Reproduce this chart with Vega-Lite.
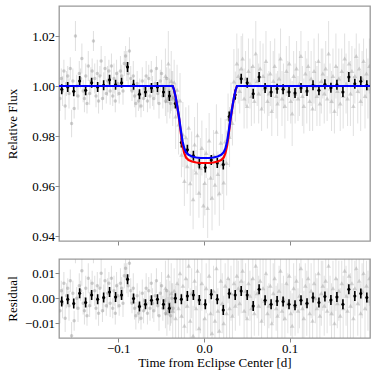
{
"$schema":"https://vega.github.io/schema/vega-lite/v6.json",
"padding":{"left":5,"top":5,"right":5,"bottom":5},
"bounds":"flush",
"spacing":18,
"background":"white",
"config":{
 "font":"Liberation Serif",
 "view":{"stroke":"#999999","strokeWidth":1.3},
 "axis":{"domain":false,"grid":false,"ticks":true,"tickColor":"#888888","tickSize":4,"labelFont":"Liberation Serif","labelFontSize":13,"labelColor":"#000000","titleFont":"Liberation Serif","titleFontSize":13,"titleFontWeight":"normal","titleColor":"#000000","labelPadding":0.5}
},
"datasets":{
"circ":[
{"t":-0.168,"f":0.995,"r":-0.005,"e":0.005},{"t":-0.1665,"f":1.003,"r":0.003,"e":0.004},{"t":-0.165,"f":0.998,"r":-0.002,"e":0.006},{"t":-0.1635,"f":1.006,"r":0.006,"e":0.0045},{"t":-0.162,"f":0.992,"r":-0.008,"e":0.0055},{"t":-0.1605,"f":1.001,"r":0.001,"e":0.005},{"t":-0.159,"f":1.004,"r":0.004,"e":0.004},{"t":-0.1575,"f":0.997,"r":-0.003,"e":0.006},{"t":-0.156,"f":1.007,"r":0.007,"e":0.0045},{"t":-0.1545,"f":0.985,"r":-0.015,"e":0.0055},
{"t":-0.153,"f":1.002,"r":0.002,"e":0.005},{"t":-0.1515,"f":0.991,"r":-0.009,"e":0.004},{"t":-0.15,"f":1.02,"r":0.02,"e":0.006},{"t":-0.1485,"f":1.0,"r":0.0,"e":0.0045},{"t":-0.147,"f":0.996,"r":-0.004,"e":0.0055},{"t":-0.1455,"f":1.005,"r":0.005,"e":0.005},{"t":-0.144,"f":1.003,"r":0.003,"e":0.004},{"t":-0.1425,"f":1.011,"r":0.011,"e":0.006},{"t":-0.141,"f":0.998,"r":-0.002,"e":0.0045},{"t":-0.1395,"f":0.995,"r":-0.005,"e":0.0055},
{"t":-0.138,"f":1.004,"r":0.004,"e":0.005},{"t":-0.1365,"f":0.993,"r":-0.007,"e":0.004},{"t":-0.135,"f":1.008,"r":0.008,"e":0.006},{"t":-0.1335,"f":0.997,"r":-0.003,"e":0.0045},{"t":-0.132,"f":1.002,"r":0.002,"e":0.0055},{"t":-0.1305,"f":1.006,"r":0.006,"e":0.005},{"t":-0.129,"f":1.018,"r":0.018,"e":0.004},{"t":-0.1275,"f":1.003,"r":0.003,"e":0.006},{"t":-0.126,"f":0.996,"r":-0.004,"e":0.0045},{"t":-0.1245,"f":1.005,"r":0.005,"e":0.0055},
{"t":-0.123,"f":0.994,"r":-0.006,"e":0.005},{"t":-0.1215,"f":1.004,"r":0.004,"e":0.004},{"t":-0.12,"f":1.01,"r":0.01,"e":0.006},{"t":-0.1185,"f":0.995,"r":-0.005,"e":0.0045},{"t":-0.117,"f":1.0,"r":0.0,"e":0.0055},{"t":-0.1155,"f":1.007,"r":0.007,"e":0.005},{"t":-0.114,"f":0.997,"r":-0.003,"e":0.004},{"t":-0.1125,"f":1.002,"r":0.002,"e":0.006},{"t":-0.111,"f":1.006,"r":0.006,"e":0.0045},{"t":-0.1095,"f":0.998,"r":-0.002,"e":0.0055},
{"t":-0.108,"f":1.008,"r":0.008,"e":0.005},{"t":-0.1065,"f":0.996,"r":-0.004,"e":0.004},{"t":-0.105,"f":1.003,"r":0.003,"e":0.006},{"t":-0.1035,"f":0.994,"r":-0.006,"e":0.0045},{"t":-0.102,"f":1.005,"r":0.005,"e":0.0055},{"t":-0.1005,"f":1.001,"r":0.001,"e":0.005},{"t":-0.099,"f":0.997,"r":-0.003,"e":0.004},{"t":-0.0975,"f":1.006,"r":0.006,"e":0.006},{"t":-0.096,"f":1.004,"r":0.004,"e":0.0045},{"t":-0.0945,"f":0.998,"r":-0.002,"e":0.0055},
{"t":-0.093,"f":1.009,"r":0.009,"e":0.005},{"t":-0.0915,"f":1.012,"r":0.012,"e":0.004},{"t":-0.09,"f":1.008,"r":0.008,"e":0.006},{"t":-0.0885,"f":1.005,"r":0.005,"e":0.0045},{"t":-0.087,"f":1.014,"r":0.014,"e":0.0055},{"t":-0.0855,"f":1.003,"r":0.003,"e":0.005},{"t":-0.084,"f":0.998,"r":-0.002,"e":0.004},{"t":-0.0825,"f":1.004,"r":0.004,"e":0.006},{"t":-0.081,"f":0.996,"r":-0.004,"e":0.0045},{"t":-0.0795,"f":0.993,"r":-0.007,"e":0.0055},
{"t":-0.078,"f":1.001,"r":0.001,"e":0.005},{"t":-0.0765,"f":0.994,"r":-0.006,"e":0.004},{"t":-0.075,"f":0.997,"r":-0.003,"e":0.006},{"t":-0.0735,"f":0.992,"r":-0.008,"e":0.0045},{"t":-0.072,"f":1.002,"r":0.002,"e":0.0055},{"t":-0.0705,"f":0.995,"r":-0.005,"e":0.005},{"t":-0.069,"f":0.999,"r":-0.001,"e":0.004},{"t":-0.0675,"f":1.004,"r":0.004,"e":0.006},{"t":-0.066,"f":0.994,"r":-0.006,"e":0.0045},{"t":-0.0645,"f":1.003,"r":0.003,"e":0.0055},
{"t":-0.063,"f":0.996,"r":-0.004,"e":0.005},{"t":-0.0615,"f":1.006,"r":0.006,"e":0.004},{"t":-0.06,"f":0.998,"r":-0.002,"e":0.006},{"t":-0.0585,"f":0.995,"r":-0.005,"e":0.0045},{"t":-0.057,"f":1.001,"r":0.001,"e":0.0055},{"t":-0.0555,"f":1.007,"r":0.007,"e":0.005},{"t":-0.054,"f":0.997,"r":-0.003,"e":0.004},{"t":-0.0525,"f":0.993,"r":-0.007,"e":0.006},{"t":-0.051,"f":1.002,"r":0.002,"e":0.0045},{"t":-0.0495,"f":1.005,"r":0.005,"e":0.0055},
{"t":-0.048,"f":0.996,"r":-0.004,"e":0.005},{"t":-0.0465,"f":0.999,"r":-0.001,"e":0.004},{"t":-0.045,"f":0.994,"r":-0.006,"e":0.006},{"t":-0.0435,"f":1.003,"r":0.003,"e":0.0045},{"t":-0.042,"f":0.995,"r":-0.005,"e":0.0055},{"t":-0.0405,"f":0.998,"r":-0.002,"e":0.005},{"t":-0.039,"f":0.993,"r":-0.007,"e":0.004},{"t":-0.0375,"f":1.0,"r":0.0,"e":0.006},{"t":-0.036,"f":0.9955,"r":-0.004,"e":0.0045}
],
"tri":[
{"t":-0.045,"f":1.004,"r":0.004,"e":0.011},{"t":-0.0433,"f":0.994,"r":-0.006,"e":0.009},{"t":-0.0416,"f":1.009,"r":0.009,"e":0.013},{"t":-0.0399,"f":0.997,"r":-0.003,"e":0.01},{"t":-0.0382,"f":1.002,"r":0.002,"e":0.012},{"t":-0.0365,"f":0.995,"r":-0.005,"e":0.011},{"t":-0.0348,"f":1.0015,"r":0.003,"e":0.009},{"t":-0.0331,"f":0.9878,"r":-0.008,"e":0.013},{"t":-0.0314,"f":0.9985,"r":0.006,"e":0.01},{"t":-0.0297,"f":0.9846,"r":-0.004,"e":0.012},
{"t":-0.028,"f":0.9942,"r":0.01,"e":0.011},{"t":-0.0263,"f":0.9725,"r":-0.007,"e":0.009},{"t":-0.0246,"f":0.9806,"r":0.005,"e":0.013},{"t":-0.0229,"f":0.962,"r":-0.011,"e":0.01},{"t":-0.0212,"f":0.9795,"r":0.008,"e":0.012},{"t":-0.0195,"f":0.9679,"r":-0.003,"e":0.011},{"t":-0.0178,"f":0.9833,"r":0.013,"e":0.009},{"t":-0.0161,"f":0.9611,"r":-0.009,"e":0.013},{"t":-0.0144,"f":0.9718,"r":0.002,"e":0.01},{"t":-0.0127,"f":0.9547,"r":-0.015,"e":0.012},
{"t":-0.011,"f":0.9766,"r":0.007,"e":0.011},{"t":-0.0093,"f":0.9654,"r":-0.004,"e":0.009},{"t":-0.0076,"f":0.9803,"r":0.011,"e":0.013},{"t":-0.0059,"f":0.9573,"r":-0.012,"e":0.01},{"t":-0.0042,"f":0.9672,"r":-0.002,"e":0.012},{"t":-0.0025,"f":0.9752,"r":0.006,"e":0.011},{"t":-0.0008,"f":0.9522,"r":-0.017,"e":0.009},{"t":0.0009,"f":0.9612,"r":-0.008,"e":0.013},{"t":0.0026,"f":0.9732,"r":0.004,"e":0.01},{"t":0.0043,"f":0.9512,"r":-0.018,"e":0.012},
{"t":0.006,"f":0.9782,"r":0.009,"e":0.011},{"t":0.0077,"f":0.9633,"r":-0.006,"e":0.009},{"t":0.0094,"f":0.9553,"r":-0.014,"e":0.013},{"t":0.0111,"f":0.9724,"r":0.003,"e":0.01},{"t":0.0128,"f":0.9605,"r":-0.009,"e":0.012},{"t":0.0145,"f":0.9817,"r":0.012,"e":0.011},{"t":0.0162,"f":0.9648,"r":-0.005,"e":0.009},{"t":0.0179,"f":0.9571,"r":-0.013,"e":0.013},{"t":0.0196,"f":0.9773,"r":0.007,"e":0.01},{"t":0.0213,"f":0.9688,"r":-0.002,"e":0.012},
{"t":0.023,"f":0.9614,"r":-0.01,"e":0.011},{"t":0.0247,"f":0.9778,"r":0.005,"e":0.009},{"t":0.0264,"f":0.9692,"r":-0.006,"e":0.013},{"t":0.0281,"f":0.987,"r":0.008,"e":0.01},{"t":0.0298,"f":0.9796,"r":-0.004,"e":0.012},{"t":0.0315,"f":0.9904,"r":0.002,"e":0.011},{"t":0.0332,"f":0.9852,"r":-0.007,"e":0.009},{"t":0.0349,"f":1.0018,"r":0.006,"e":0.013},{"t":0.0366,"f":0.9958,"r":-0.003,"e":0.01},{"t":0.0383,"f":1.009,"r":0.009,"e":0.012},
{"t":0.04,"f":1.004,"r":0.004,"e":0.011},{"t":0.0417,"f":0.998,"r":-0.002,"e":0.009},{"t":0.0434,"f":1.007,"r":0.007,"e":0.013},{"t":0.0451,"f":1.011,"r":0.011,"e":0.01},{"t":0.0468,"f":0.995,"r":-0.005,"e":0.012},{"t":0.0485,"f":1.003,"r":0.003,"e":0.011},{"t":0.0502,"f":0.992,"r":-0.008,"e":0.009},{"t":0.0519,"f":1.006,"r":0.006,"e":0.013},{"t":0.0536,"f":1.001,"r":0.001,"e":0.01},{"t":0.0553,"f":0.996,"r":-0.004,"e":0.012},
{"t":0.057,"f":1.008,"r":0.008,"e":0.011},{"t":0.0587,"f":0.994,"r":-0.006,"e":0.009},{"t":0.0604,"f":1.013,"r":0.013,"e":0.013},{"t":0.0621,"f":1.002,"r":0.002,"e":0.01},{"t":0.0638,"f":0.997,"r":-0.003,"e":0.012},{"t":0.0655,"f":1.007,"r":0.007,"e":0.011},{"t":0.0672,"f":0.991,"r":-0.009,"e":0.009},{"t":0.0689,"f":1.004,"r":0.004,"e":0.013},{"t":0.0706,"f":0.999,"r":-0.001,"e":0.01},{"t":0.0723,"f":1.01,"r":0.01,"e":0.012},
{"t":0.074,"f":0.994,"r":-0.006,"e":0.011},{"t":0.0757,"f":0.997,"r":-0.003,"e":0.009},{"t":0.0774,"f":1.005,"r":0.005,"e":0.013},{"t":0.0791,"f":0.99,"r":-0.01,"e":0.01},{"t":0.0808,"f":1.002,"r":0.002,"e":0.012},{"t":0.0825,"f":1.008,"r":0.008,"e":0.011},{"t":0.0842,"f":0.996,"r":-0.004,"e":0.009},{"t":0.0859,"f":0.993,"r":-0.007,"e":0.013},{"t":0.0876,"f":1.003,"r":0.003,"e":0.01},{"t":0.0893,"f":1.011,"r":0.011,"e":0.012},
{"t":0.091,"f":0.995,"r":-0.005,"e":0.011},{"t":0.0927,"f":1.0,"r":0.0,"e":0.009},{"t":0.0944,"f":0.992,"r":-0.008,"e":0.013},{"t":0.0961,"f":1.006,"r":0.006,"e":0.01},{"t":0.0978,"f":0.998,"r":-0.002,"e":0.012},{"t":0.0995,"f":1.009,"r":0.009,"e":0.011},{"t":0.1012,"f":0.994,"r":-0.006,"e":0.009},{"t":0.1029,"f":0.989,"r":-0.011,"e":0.013},{"t":0.1046,"f":1.004,"r":0.004,"e":0.01},{"t":0.1063,"f":0.997,"r":-0.003,"e":0.012},
{"t":0.108,"f":1.007,"r":0.007,"e":0.011},{"t":0.1097,"f":0.995,"r":-0.005,"e":0.009},{"t":0.1114,"f":1.001,"r":0.001,"e":0.013},{"t":0.1131,"f":1.012,"r":0.012,"e":0.01},{"t":0.1148,"f":0.996,"r":-0.004,"e":0.012},{"t":0.1165,"f":0.992,"r":-0.008,"e":0.011},{"t":0.1182,"f":1.005,"r":0.005,"e":0.009},{"t":0.1199,"f":0.998,"r":-0.002,"e":0.013},{"t":0.1216,"f":1.008,"r":0.008,"e":0.01},{"t":0.1233,"f":0.994,"r":-0.006,"e":0.012},
{"t":0.125,"f":1.003,"r":0.003,"e":0.011},{"t":0.1267,"f":0.991,"r":-0.009,"e":0.009},{"t":0.1284,"f":1.006,"r":0.006,"e":0.013},{"t":0.1301,"f":1.0,"r":0.0,"e":0.01},{"t":0.1318,"f":0.996,"r":-0.004,"e":0.012},{"t":0.1335,"f":1.01,"r":0.01,"e":0.011},{"t":0.1352,"f":0.993,"r":-0.007,"e":0.009},{"t":0.1369,"f":1.002,"r":0.002,"e":0.013},{"t":0.1386,"f":1.005,"r":0.005,"e":0.01},{"t":0.1403,"f":0.997,"r":-0.003,"e":0.012},
{"t":0.142,"f":1.007,"r":0.007,"e":0.011},{"t":0.1437,"f":0.995,"r":-0.005,"e":0.009},{"t":0.1454,"f":1.013,"r":0.013,"e":0.013},{"t":0.1471,"f":0.999,"r":-0.001,"e":0.01},{"t":0.1488,"f":0.994,"r":-0.006,"e":0.012},{"t":0.1505,"f":1.004,"r":0.004,"e":0.011},{"t":0.1522,"f":0.99,"r":-0.01,"e":0.009},{"t":0.1539,"f":1.008,"r":0.008,"e":0.013},{"t":0.1556,"f":0.998,"r":-0.002,"e":0.01},{"t":0.1573,"f":1.003,"r":0.003,"e":0.012},
{"t":0.159,"f":0.993,"r":-0.007,"e":0.011},{"t":0.1607,"f":1.006,"r":0.006,"e":0.009},{"t":0.1624,"f":0.996,"r":-0.004,"e":0.013},{"t":0.1641,"f":1.011,"r":0.011,"e":0.01},{"t":0.1658,"f":1.001,"r":0.001,"e":0.012},{"t":0.1675,"f":0.995,"r":-0.005,"e":0.011},{"t":0.1692,"f":1.009,"r":0.009,"e":0.009},{"t":0.1709,"f":0.997,"r":-0.003,"e":0.013},{"t":0.1726,"f":1.006,"r":0.006,"e":0.01},{"t":0.1743,"f":0.992,"r":-0.008,"e":0.012},
{"t":0.176,"f":1.004,"r":0.004,"e":0.011},{"t":0.1777,"f":1.012,"r":0.012,"e":0.009},{"t":0.1794,"f":0.998,"r":-0.002,"e":0.013},{"t":0.1811,"f":1.007,"r":0.007,"e":0.01},{"t":0.1828,"f":0.994,"r":-0.006,"e":0.012},{"t":0.1845,"f":1.003,"r":0.003,"e":0.011},{"t":0.1862,"f":1.01,"r":0.01,"e":0.009},{"t":0.1879,"f":0.996,"r":-0.004,"e":0.013},{"t":0.1896,"f":1.005,"r":0.005,"e":0.01},{"t":0.1913,"f":0.999,"r":-0.001,"e":0.012},
{"t":0.193,"f":1.008,"r":0.008,"e":0.011}
],
"bins":[
{"t":-0.166,"f":0.9987,"r":-0.0013,"e":0.002},{"t":-0.159,"f":0.9996,"r":-0.0004,"e":0.002},{"t":-0.152,"f":0.9979,"r":-0.0021,"e":0.002},{"t":-0.1451,"f":1.002,"r":0.002,"e":0.002},{"t":-0.1381,"f":0.9983,"r":-0.0017,"e":0.002},{"t":-0.1311,"f":1.0013,"r":0.0013,"e":0.002},{"t":-0.1241,"f":0.9996,"r":-0.0004,"e":0.002},{"t":-0.1171,"f":1.0003,"r":0.0003,"e":0.002},{"t":-0.1102,"f":1.0025,"r":0.0025,"e":0.002},{"t":-0.1032,"f":1.0005,"r":0.0005,"e":0.002},
{"t":-0.0962,"f":1.0013,"r":0.0013,"e":0.002},{"t":-0.0892,"f":1.0076,"r":0.0076,"e":0.002},{"t":-0.0822,"f":1.0005,"r":-0.0001,"e":0.002},{"t":-0.0753,"f":0.9967,"r":-0.0033,"e":0.002},{"t":-0.0683,"f":0.9976,"r":-0.0024,"e":0.002},{"t":-0.0613,"f":0.9992,"r":-0.0008,"e":0.002},{"t":-0.0543,"f":0.9996,"r":-0.0004,"e":0.002},{"t":-0.0473,"f":0.9976,"r":-0.0024,"e":0.002},{"t":-0.0404,"f":0.996,"r":-0.004,"e":0.002},{"t":-0.0334,"f":0.993,"r":0.0,"e":0.002},
{"t":-0.0264,"f":0.9774,"r":-0.0004,"e":0.002},{"t":-0.0194,"f":0.9745,"r":0.0009,"e":0.002},{"t":-0.0124,"f":0.9721,"r":0.0013,"e":0.002},{"t":-0.0055,"f":0.969,"r":-0.0007,"e":0.002},{"t":0.0015,"f":0.9674,"r":-0.0024,"e":0.002},{"t":0.0085,"f":0.9704,"r":0.0016,"e":0.002},{"t":0.0155,"f":0.9692,"r":-0.0004,"e":0.002},{"t":0.0225,"f":0.9686,"r":-0.0047,"e":0.002},{"t":0.0294,"f":0.9878,"r":0.0019,"e":0.002},{"t":0.0364,"f":0.9965,"r":0.0013,"e":0.002},
{"t":0.0434,"f":1.0029,"r":0.0029,"e":0.002},{"t":0.0504,"f":1.0013,"r":0.0013,"e":0.002},{"t":0.0574,"f":0.9969,"r":-0.0031,"e":0.002},{"t":0.0643,"f":1.0036,"r":0.0036,"e":0.002},{"t":0.0713,"f":0.9992,"r":-0.0008,"e":0.002},{"t":0.0783,"f":0.9976,"r":-0.0024,"e":0.002},{"t":0.0853,"f":0.9989,"r":-0.0011,"e":0.002},{"t":0.0923,"f":0.9987,"r":-0.0013,"e":0.002},{"t":0.0992,"f":0.9976,"r":-0.0024,"e":0.002},{"t":0.1062,"f":0.9972,"r":-0.0028,"e":0.002},
{"t":0.1132,"f":0.9992,"r":-0.0008,"e":0.002},{"t":0.1202,"f":0.998,"r":-0.002,"e":0.002},{"t":0.1272,"f":1.0003,"r":0.0003,"e":0.002},{"t":0.1341,"f":0.9983,"r":-0.0017,"e":0.002},{"t":0.1411,"f":1.0007,"r":0.0007,"e":0.002},{"t":0.1481,"f":0.9993,"r":-0.0007,"e":0.002},{"t":0.1551,"f":1.0005,"r":0.0005,"e":0.002},{"t":0.1621,"f":0.9976,"r":-0.0024,"e":0.002},{"t":0.169,"f":1.0036,"r":0.0036,"e":0.002},{"t":0.176,"f":1.0009,"r":0.0009,"e":0.002},
{"t":0.183,"f":1.0019,"r":0.0019,"e":0.002},{"t":0.19,"f":1.0003,"r":0.0003,"e":0.002}
],
"blue":[
{"t":-0.1692,"f":1.0},{"t":-0.0365,"f":1.0},{"t":-0.035,"f":0.9985},{"t":-0.033,"f":0.9955},{"t":-0.031,"f":0.9915},{"t":-0.029,"f":0.9872},{"t":-0.027,"f":0.9822},{"t":-0.025,"f":0.9778},{"t":-0.023,"f":0.975},{"t":-0.021,"f":0.9735},{"t":-0.018,"f":0.9725},{"t":-0.014,"f":0.9718},{"t":-0.009,"f":0.9714},{"t":-0.004,"f":0.9712},{"t":0.001,"f":0.9712},{"t":0.006,"f":0.9712},{"t":0.011,"f":0.9714},{"t":0.016,"f":0.9718},{"t":0.02,"f":0.9725},{"t":0.023,"f":0.9735},{"t":0.025,"f":0.975},{"t":0.027,"f":0.9778},{"t":0.029,"f":0.9822},{"t":0.031,"f":0.9872},{"t":0.033,"f":0.9915},{"t":0.035,"f":0.9955},{"t":0.037,"f":0.9985},{"t":0.0385,"f":1.0},{"t":0.1937,"f":1.0}
],
"red":[
{"t":-0.1692,"f":1.0},{"t":-0.0365,"f":1.0},{"t":-0.035,"f":0.9985},{"t":-0.033,"f":0.9954},{"t":-0.031,"f":0.9913},{"t":-0.029,"f":0.9868},{"t":-0.027,"f":0.9812},{"t":-0.025,"f":0.9762},{"t":-0.023,"f":0.9731},{"t":-0.021,"f":0.9714},{"t":-0.018,"f":0.9704},{"t":-0.014,"f":0.9698},{"t":-0.009,"f":0.9694},{"t":-0.004,"f":0.9692},{"t":0.001,"f":0.9692},{"t":0.006,"f":0.9692},{"t":0.011,"f":0.9694},{"t":0.016,"f":0.9698},{"t":0.02,"f":0.9704},{"t":0.023,"f":0.9714},{"t":0.025,"f":0.9731},{"t":0.027,"f":0.9762},{"t":0.029,"f":0.9812},{"t":0.031,"f":0.9868},{"t":0.033,"f":0.9913},{"t":0.035,"f":0.9954},{"t":0.037,"f":0.9985},{"t":0.0385,"f":1.0},{"t":0.1937,"f":1.0}
]
},
"vconcat":[
{
 "width":311,"height":235,
 "encoding":{
  "x":{"field":"t","type":"quantitative","scale":{"domain":[-0.1692,0.1937],"nice":false,"zero":false},"axis":{"values":[-0.1,0,0.1],"labels":false,"title":null}},
  "y":{"field":"f","type":"quantitative","scale":{"domain":[0.938,1.032],"nice":false,"zero":false},"axis":{"values":[0.94,0.96,0.98,1.0,1.02],"format":".2f","title":"Relative Flux","titleX":-43,"titleY":117.5,"titleAngle":-90,"titleAlign":"center","titleBaseline":"alphabetic"}}
 },
 "layer":[
  {"data":{"name":"circ"},"mark":{"type":"errorbar","color":"#8c8c8c","opacity":0.28,"thickness":1,"clip":true},"encoding":{"yError":{"field":"e"}}},
  {"data":{"name":"circ"},"mark":{"type":"point","shape":"circle","filled":true,"size":12,"color":"#8c8c8c","opacity":0.4,"clip":true},"encoding":{}},
  {"data":{"name":"tri"},"mark":{"type":"errorbar","color":"#8c8c8c","opacity":0.25,"thickness":1,"clip":true},"encoding":{"yError":{"field":"e"}}},
  {"data":{"name":"tri"},"mark":{"type":"point","shape":"triangle-up","filled":true,"size":22,"color":"#8c8c8c","opacity":0.35,"clip":true},"encoding":{}},
  {"data":{"name":"bins"},"mark":{"type":"errorbar","color":"#000000","thickness":1.6},"encoding":{"yError":{"field":"e"}}},
  {"data":{"name":"bins"},"mark":{"type":"point","shape":"circle","filled":true,"size":10,"color":"#000000","opacity":1},"encoding":{}},
  {"data":{"name":"red"},"mark":{"type":"line","color":"#ff0000","strokeWidth":2.2},"encoding":{}},
  {"data":{"name":"blue"},"mark":{"type":"line","color":"#0000ff","strokeWidth":2.2},"encoding":{}}
 ]
},
{
 "width":311,"height":79,
 "encoding":{
  "x":{"field":"t","type":"quantitative","scale":{"domain":[-0.1692,0.1937],"nice":false,"zero":false},"axis":{"values":[-0.1,0,0.1],"format":".1f","title":"Time from Eclipse Center [d]","titleY":28,"titleBaseline":"alphabetic"}},
  "y":{"field":"r","type":"quantitative","scale":{"domain":[-0.0159,0.0157],"nice":false,"zero":false},"axis":{"values":[-0.01,0,0.01],"format":".2f","title":"Residual","titleX":-43,"titleY":39.5,"titleAngle":-90,"titleAlign":"center","titleBaseline":"alphabetic"}}
 },
 "layer":[
  {"data":{"name":"circ"},"mark":{"type":"errorbar","color":"#8c8c8c","opacity":0.28,"thickness":1,"clip":true},"encoding":{"yError":{"field":"e"}}},
  {"data":{"name":"circ"},"mark":{"type":"point","shape":"circle","filled":true,"size":12,"color":"#8c8c8c","opacity":0.4,"clip":true},"encoding":{}},
  {"data":{"name":"tri"},"mark":{"type":"errorbar","color":"#8c8c8c","opacity":0.25,"thickness":1,"clip":true},"encoding":{"yError":{"field":"e"}}},
  {"data":{"name":"tri"},"mark":{"type":"point","shape":"triangle-up","filled":true,"size":22,"color":"#8c8c8c","opacity":0.35,"clip":true},"encoding":{}},
  {"data":{"name":"bins"},"mark":{"type":"errorbar","color":"#000000","thickness":1.6},"encoding":{"yError":{"field":"e"}}},
  {"data":{"name":"bins"},"mark":{"type":"point","shape":"circle","filled":true,"size":10,"color":"#000000","opacity":1},"encoding":{}}
 ]
}
]
}
